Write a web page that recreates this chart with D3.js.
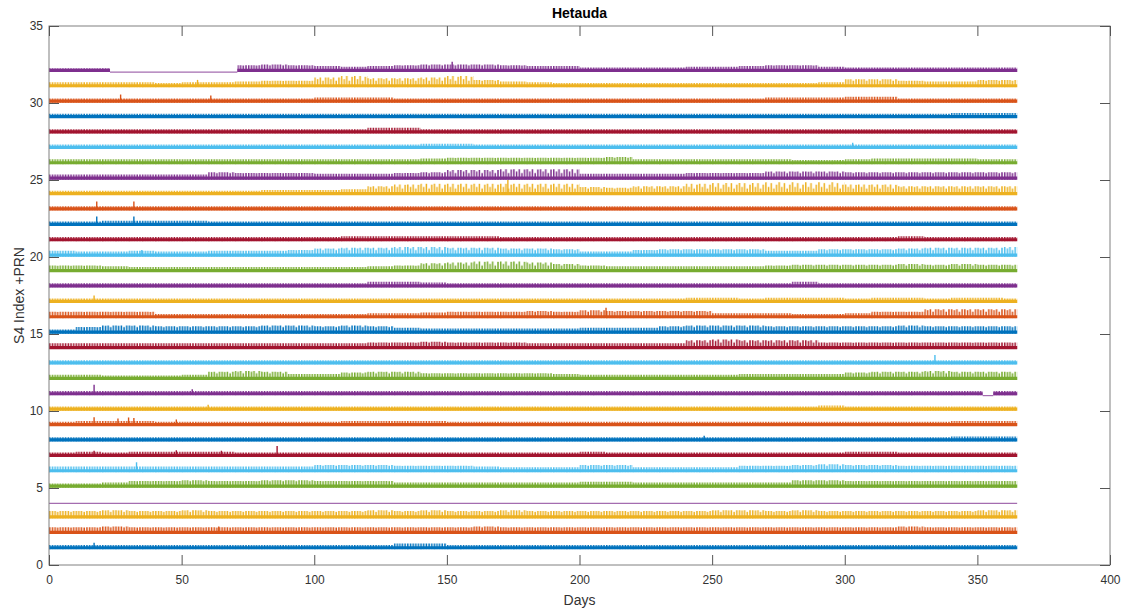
<!DOCTYPE html>
<html>
<head>
<meta charset="utf-8">
<script src="https://cdn.jsdelivr.net/npm/d3@7"></script>
<style>
    body { margin: 0; background: #fff; }
    svg { display: block; font-family: "Liberation Sans", Arial, Helvetica, sans-serif; }
</style>
</head>
<body>
<div id="chart"></div>
<script>
// Block start days (10-day blocks, last block ends at day 365)
const blockDays = [0, 10, 20, 30, 40, 50, 60, 70, 80, 90, 100, 110, 120, 130, 140, 150, 160, 170, 180,
    190, 200, 210, 220, 230, 240, 250, 260, 270, 280, 290, 300, 310, 320, 330, 340, 350, 360];
const lastDay = 365;

// Typical S4 noise level (centre of the band) and peak S4 in each block, per PRN
const s4Base = 0.12;
const peakPRN01 = [.3,.3,.3,.3,.3,.3,.3,.3,.3,.3,.3,.3,.3,.4,.4,.3,.3,.3,.3,.3,.3,.3,.3,.3,.3,.3,.3,.3,.3,.3,.3,.3,.3,.3,.3,.3,.3];
const peakPRN02 = [.45,.45,.5,.45,.45,.45,.45,.45,.45,.45,.45,.45,.45,.45,.45,.45,.5,.45,.45,.45,.45,.45,.45,.45,.45,.45,.45,.45,.45,.45,.45,.45,.5,.45,.45,.45,.45];
const peakPRN03 = [.5,.5,.55,.5,.5,.55,.5,.5,.5,.5,.5,.5,.55,.5,.55,.5,.5,.55,.5,.5,.5,.5,.5,.5,.5,.55,.55,.5,.55,.5,.5,.5,.5,.5,.5,.55,.55];
const peakPRN04 = [0,0,0,0,0,0,0,0,0,0,0,0,0,0,0,0,0,0,0,0,0,0,0,0,0,0,0,0,0,0,0,0,0,0,0,0,0];
const peakPRN05 = [.3,.3,.35,.45,.45,.5,.45,.45,.5,.5,.45,.45,.45,.35,.35,.35,.35,.35,.35,.35,.4,.4,.35,.35,.35,.35,.35,.35,.5,.5,.45,.45,.45,.45,.45,.45,.45];
const peakPRN06 = [.4,.4,.4,.4,.4,.4,.4,.4,.4,.4,.5,.5,.5,.45,.45,.45,.4,.35,.35,.35,.5,.5,.35,.35,.35,.35,.45,.45,.5,.55,.5,.5,.45,.45,.45,.45,.45];
const peakPRN07 = [.3,.35,.3,.35,.35,.35,.35,.3,.3,.3,.3,.3,.3,.3,.3,.3,.3,.3,.3,.3,.35,.3,.3,.3,.3,.3,.3,.3,.3,.3,.35,.35,.3,.3,.3,.3,.3];
const peakPRN08 = [.3,.3,.3,.3,.3,.3,.3,.3,.3,.3,.3,.3,.3,.3,.3,.3,.3,.3,.3,.3,.3,.3,.3,.3,.3,.3,.3,.3,.3,.3,.3,.3,.3,.3,.35,.35,.35];
const peakPRN09 = [.3,.35,.35,.35,.3,.3,.3,.3,.3,.3,.3,.35,.35,.35,.35,.3,.3,.3,.3,.3,.3,.3,.3,.3,.3,.3,.3,.3,.3,.3,.3,.3,.3,.3,.35,.35,.35];
const peakPRN10 = [.3,.3,.3,.3,.3,.3,.3,.3,.3,.3,.3,.3,.3,.3,.3,.3,.3,.3,.3,.3,.3,.3,.3,.3,.3,.3,.3,.3,.3,.35,.3,.3,.3,.3,.3,.3,.3];
const peakPRN11 = [.3,.3,.3,.3,.3,.3,.3,.3,.3,.3,.3,.3,.3,.3,.3,.3,.3,.3,.3,.3,.3,.3,.3,.3,.3,.3,.3,.3,.3,.3,.3,.3,.3,.3,.3,.3,.3];
const peakPRN12 = [.35,.35,.3,.3,.3,.35,.55,.6,.55,.4,.4,.5,.55,.55,.45,.45,.45,.45,.45,.4,.35,.35,.35,.35,.35,.35,.4,.4,.4,.4,.5,.55,.55,.6,.55,.55,.55];
const peakPRN13 = [.3,.3,.3,.3,.3,.3,.3,.3,.3,.3,.3,.3,.3,.3,.3,.3,.3,.3,.3,.3,.3,.3,.3,.3,.3,.3,.3,.3,.3,.3,.3,.3,.3,.3,.3,.3,.3];
const peakPRN14 = [.4,.4,.4,.4,.4,.4,.4,.4,.4,.4,.4,.4,.45,.45,.5,.45,.45,.45,.4,.4,.4,.4,.4,.4,.6,.65,.6,.6,.6,.45,.45,.45,.45,.45,.45,.45,.45];
const peakPRN15 = [.3,.45,.55,.55,.5,.5,.5,.5,.55,.55,.5,.55,.5,.4,.35,.35,.35,.35,.35,.35,.4,.4,.4,.5,.55,.55,.55,.5,.5,.5,.5,.5,.55,.5,.5,.5,.5];
const peakPRN16 = [.45,.45,.45,.45,.3,.3,.3,.3,.3,.3,.3,.3,.35,.35,.4,.45,.45,.45,.5,.45,.55,.5,.5,.5,.5,.35,.35,.35,.3,.3,.35,.45,.45,.6,.6,.6,.6];
const peakPRN17 = [.3,.3,.3,.3,.3,.3,.3,.3,.3,.3,.3,.3,.3,.3,.3,.3,.3,.3,.3,.3,.3,.3,.3,.3,.35,.35,.3,.35,.35,.35,.3,.35,.35,.3,.35,.35,.3];
const peakPRN18 = [.3,.3,.3,.3,.3,.3,.3,.3,.3,.3,.3,.3,.4,.4,.35,.3,.3,.3,.3,.3,.3,.3,.3,.3,.3,.3,.3,.3,.4,.3,.3,.3,.3,.3,.3,.3,.3];
const peakPRN19 = [.45,.45,.4,.35,.35,.35,.35,.35,.35,.35,.35,.35,.4,.45,.6,.65,.7,.7,.65,.55,.45,.4,.4,.4,.4,.4,.4,.45,.5,.5,.5,.5,.55,.5,.55,.5,.5];
const peakPRN20 = [.4,.35,.35,.4,.35,.35,.4,.4,.4,.45,.55,.6,.6,.65,.65,.6,.6,.55,.55,.5,.35,.35,.45,.5,.5,.5,.5,.4,.4,.5,.5,.5,.55,.6,.6,.6,.65];
const peakPRN21 = [.3,.3,.3,.3,.3,.3,.3,.3,.3,.3,.3,.35,.35,.35,.35,.35,.35,.3,.3,.3,.3,.3,.3,.3,.3,.3,.3,.3,.3,.3,.3,.3,.35,.3,.3,.3,.3];
const peakPRN22 = [.3,.3,.35,.35,.35,.35,.3,.3,.3,.3,.3,.3,.3,.3,.3,.3,.3,.3,.3,.3,.3,.3,.3,.3,.3,.3,.3,.3,.3,.3,.3,.3,.3,.3,.3,.3,.3];
const peakPRN23 = [.3,.3,.3,.3,.3,.3,.3,.3,.3,.3,.3,.3,.3,.3,.3,.3,.3,.3,.3,.3,.3,.3,.3,.3,.3,.3,.3,.3,.3,.3,.3,.3,.3,.3,.3,.3,.3];
const peakPRN24 = [.3,.3,.3,.3,.3,.3,.3,.3,.35,.35,.35,.4,.6,.7,.75,.75,.75,.75,.75,.75,.55,.5,.6,.6,.75,.8,.8,.85,.85,.85,.7,.7,.6,.6,.6,.6,.6];
const peakPRN25 = [.35,.35,.35,.35,.35,.35,.5,.45,.45,.45,.4,.4,.4,.45,.5,.65,.65,.7,.7,.7,.4,.4,.4,.4,.45,.45,.45,.55,.55,.55,.5,.5,.5,.5,.5,.5,.5];
const peakPRN26 = [.35,.35,.35,.35,.35,.35,.35,.35,.35,.35,.35,.35,.35,.35,.4,.45,.45,.45,.45,.45,.45,.5,.35,.35,.35,.35,.35,.35,.3,.3,.35,.4,.4,.4,.4,.35,.35];
const peakPRN27 = [.3,.3,.3,.3,.3,.3,.3,.3,.3,.3,.3,.3,.3,.3,.35,.35,.3,.3,.3,.3,.3,.3,.3,.3,.3,.3,.3,.3,.3,.3,.3,.3,.3,.3,.3,.3,.3];
const peakPRN28 = [.3,.3,.3,.3,.3,.3,.3,.3,.3,.3,.3,.3,.4,.4,.3,.3,.3,.3,.3,.3,.3,.3,.3,.3,.3,.3,.3,.3,.3,.3,.3,.3,.3,.3,.3,.3,.3];
const peakPRN29 = [.3,.3,.3,.3,.3,.3,.3,.3,.3,.3,.3,.3,.3,.3,.3,.3,.3,.3,.3,.3,.3,.3,.3,.3,.3,.3,.3,.3,.3,.3,.3,.3,.3,.3,.35,.35,.35];
const peakPRN30 = [.3,.3,.3,.3,.3,.3,.3,.3,.3,.3,.35,.35,.35,.3,.3,.3,.3,.3,.3,.3,.3,.3,.3,.3,.3,.3,.3,.35,.35,.35,.4,.4,.3,.3,.3,.3,.3];
const peakPRN31 = [.35,.35,.35,.35,.3,.35,.35,.4,.45,.45,.65,.75,.6,.6,.65,.75,.5,.4,.35,.3,.3,.3,.3,.3,.3,.3,.3,.3,.3,.35,.55,.55,.45,.4,.4,.5,.5];
const peakPRN32 = [.25,.25,.25,0,0,0,0,.45,.5,.45,.4,.35,.4,.45,.5,.5,.5,.45,.4,.4,.3,.3,.3,.3,.35,.35,.4,.45,.45,.35,.3,.3,.3,.3,.3,.3,.3];

const prnPeaks = [peakPRN01, peakPRN02, peakPRN03, peakPRN04, peakPRN05, peakPRN06, peakPRN07, peakPRN08,
    peakPRN09, peakPRN10, peakPRN11, peakPRN12, peakPRN13, peakPRN14, peakPRN15, peakPRN16,
    peakPRN17, peakPRN18, peakPRN19, peakPRN20, peakPRN21, peakPRN22, peakPRN23, peakPRN24,
    peakPRN25, peakPRN26, peakPRN27, peakPRN28, peakPRN29, peakPRN30, peakPRN31, peakPRN32];

// Isolated single-day spikes: [prn, day, S4]
const singleSpikes = [
    [1, 17, .45], [2, 64, .5], [6, 33, .67], [7, 17, .42], [7, 48, .45], [7, 65, .42], [7, 86, .73],
    [8, 247, .4], [9, 17, .6], [9, 26, .52], [9, 30, .58], [9, 32, .55], [9, 48, .45],
    [10, 60, .4], [11, 17, .7], [11, 54, .42], [13, 334, .63], [16, 210, .7], [17, 17, .5],
    [20, 35, .45], [22, 18, .63], [22, 32, .63], [23, 18, .6], [23, 32, .6], [24, 173, 1.0],
    [27, 303, .42], [30, 27, .55], [30, 61, .48], [31, 56, .5], [32, 152, .68]
];

// Spans with no scintillation data: [prn, fromDay, toDay]
const noDataSpans = [[4, 0, 365], [32, 23, 71], [11, 352, 356]];

const xTicks = [0, 50, 100, 150, 200, 250, 300, 350, 400];
const yTicks = [0, 5, 10, 15, 20, 25, 30, 35];

const colors = ['#0072BD', '#D95319', '#EDB120', '#7E2F8E', '#77AC30', '#4DBEEE', '#A2142F'];

const margin = { top: 26, right: 15, bottom: 46, left: 49 };
const width = 1125 - margin.left - margin.right;
const height = 611 - margin.top - margin.bottom;

const svgRoot = d3.select('#chart')
    .append('svg')
    .attr('width', 1125)
    .attr('height', 611);

const svg = svgRoot.append('g')
    .attr('transform', `translate(${margin.left},${margin.top})`);

const xScale = d3.scaleLinear().domain([0, 400]).range([0, width]);
const yScale = d3.scaleLinear().domain([0, 35]).range([height, 0]);

// stripe texture for the daily spikes, one tile = 5 days x 1 PRN step
const dayW = xScale(1) - xScale(0);
const tileW = dayW * 5;
const tileH = yScale(0) - yScale(1);
const stripeTops = [1, 0.55, 0.8, 0.45, 0.7];
const defs = svgRoot.append('defs');
colors.forEach((c, i) => {
    const p = defs.append('pattern')
        .attr('id', 'spikes' + i)
        .attr('patternUnits', 'userSpaceOnUse')
        .attr('x', 0)
        .attr('y', yScale(0))
        .attr('width', tileW)
        .attr('height', tileH);
    stripeTops.forEach((top, k) => {
        p.append('rect')
            .attr('x', k * dayW)
            .attr('y', tileH * (1 - top))
            .attr('width', 1.5)
            .attr('height', tileH * top)
            .attr('fill', c);
    });
});

// split day range of one PRN into segments that have data
function dataSegments(prn) {
    let segs = [[0, lastDay]];
    noDataSpans.filter(s => s[0] === prn).forEach(([, a, b]) => {
        const next = [];
        segs.forEach(([s, e]) => {
            if (b <= s || a >= e) { next.push([s, e]); return; }
            if (a > s) next.push([s, a]);
            if (b < e) next.push([b, e]);
        });
        segs = next;
    });
    return segs;
}

function segmentPoints(peaks, from, to) {
    const pts = [];
    blockDays.forEach((d, i) => {
        const end = i + 1 < blockDays.length ? blockDays[i + 1] : lastDay;
        if (end <= from || d >= to) return;
        pts.push({ day: Math.max(d, from), v: peaks[i] });
    });
    pts.push({ day: to, v: pts[pts.length - 1].v });
    return pts;
}

prnPeaks.forEach((peaks, idx) => {
    const prn = idx + 1;
    const ci = idx % colors.length;
    const color = colors[ci];
    const g = svg.append('g').attr('class', 'prn-' + prn);

    // flat lines where there is no data
    noDataSpans.filter(s => s[0] === prn).forEach(([, a, b]) => {
        g.append('path')
            .attr('d', d3.line().x(d => xScale(d)).y(() => yScale(prn))([a, b]))
            .attr('fill', 'none')
            .attr('stroke', color)
            .attr('stroke-opacity', 0.7)
            .attr('stroke-width', 1.2);
    });

    dataSegments(prn).forEach(([from, to]) => {
        const pts = segmentPoints(peaks, from, to);

        const area = d3.area()
            .x(d => xScale(d.day))
            .y0(yScale(prn + 0.02))
            .y1(d => yScale(prn + d.v))
            .curve(d3.curveStepAfter);

        g.append('path')
            .attr('d', area(pts))
            .attr('fill', `url(#spikes${ci})`);

        g.append('path')
            .attr('d', d3.line().x(d => xScale(d)).y(() => yScale(prn + s4Base))([from, to]))
            .attr('fill', 'none')
            .attr('stroke', color)
            .attr('stroke-width', 3.2);
    });

    // isolated spikes
    g.selectAll('.spike')
        .data(singleSpikes.filter(s => s[0] === prn))
        .enter()
        .append('line')
        .attr('class', 'spike')
        .attr('x1', d => xScale(d[1]))
        .attr('x2', d => xScale(d[1]))
        .attr('y1', yScale(prn + s4Base))
        .attr('y2', d => yScale(prn + d[2]))
        .attr('stroke', color)
        .attr('stroke-width', 1.4);
});

// Axes (MATLAB style: box, inward ticks)
const axisColor = '#808080';
function styleAxis(sel) {
    sel.select('.domain').remove();
    sel.selectAll('.tick line').attr('stroke', '#555').attr('stroke-width', 1);
    sel.selectAll('.tick text').attr('fill', '#333').style('font-size', '12px');
}

svg.append('rect')
    .attr('x', 0).attr('y', 0)
    .attr('width', width).attr('height', height)
    .attr('fill', 'none')
    .attr('stroke', axisColor)
    .attr('stroke-width', 1);

svg.append('g')
    .attr('transform', `translate(0,${height})`)
    .call(d3.axisBottom(xScale).tickValues(xTicks).tickSizeInner(-10).tickSizeOuter(0).tickPadding(10))
    .call(styleAxis);

svg.append('g')
    .call(d3.axisTop(xScale).tickValues(xTicks).tickSizeInner(-10).tickSizeOuter(0).tickFormat(''))
    .call(styleAxis);

svg.append('g')
    .call(d3.axisLeft(yScale).tickValues(yTicks).tickSizeInner(-10).tickSizeOuter(0).tickPadding(6))
    .call(styleAxis);

svg.append('g')
    .attr('transform', `translate(${width},0)`)
    .call(d3.axisRight(yScale).tickValues(yTicks).tickSizeInner(-10).tickSizeOuter(0).tickFormat(''))
    .call(styleAxis);

// Labels
svgRoot.append('text')
    .attr('x', margin.left + width / 2)
    .attr('y', 18)
    .attr('text-anchor', 'middle')
    .style('font-size', '14px')
    .style('font-weight', 'bold')
    .attr('fill', '#000')
    .text('Hetauda');

svgRoot.append('text')
    .attr('x', margin.left + width / 2)
    .attr('y', 605)
    .attr('text-anchor', 'middle')
    .style('font-size', '14px')
    .attr('fill', '#333')
    .text('Days');

svgRoot.append('text')
    .attr('transform', `translate(24, ${margin.top + height / 2}) rotate(-90)`)
    .attr('text-anchor', 'middle')
    .style('font-size', '14px')
    .attr('fill', '#333')
    .text('S4 Index +PRN');
</script>
</body>
</html>
